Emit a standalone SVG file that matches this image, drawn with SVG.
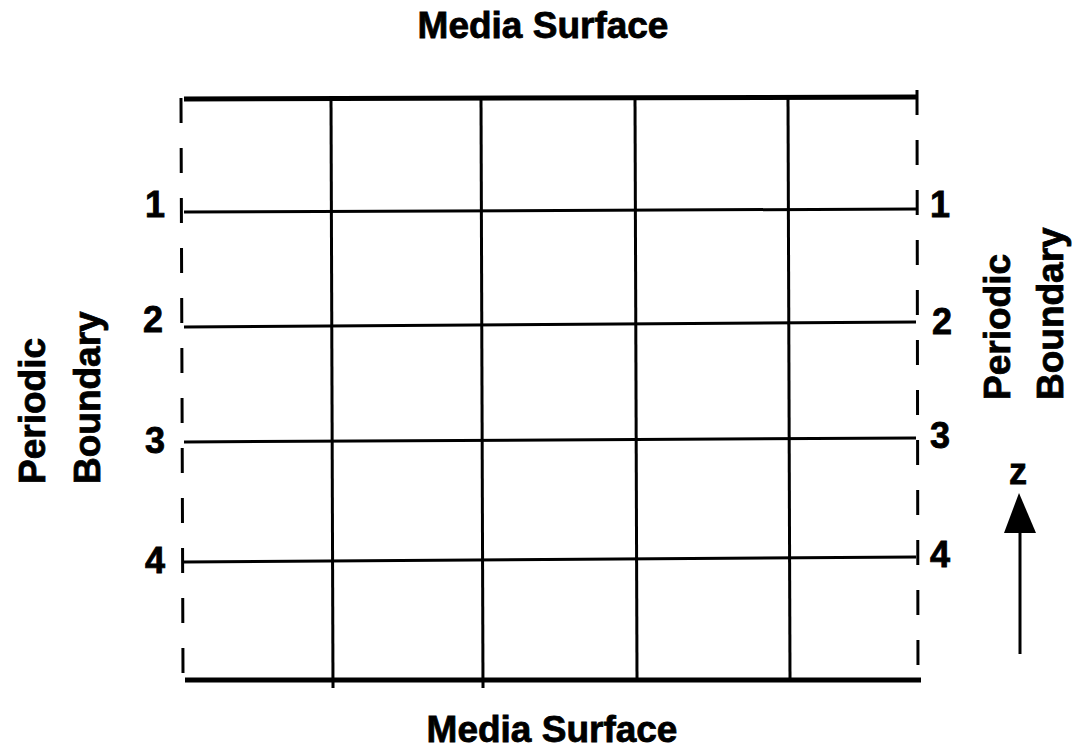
<svg xmlns="http://www.w3.org/2000/svg" width="1075" height="753" viewBox="0 0 1075 753">
<style>
text{font-family:"Liberation Sans",Arial,sans-serif;font-weight:bold;fill:#000;stroke:#000;stroke-width:0.8}
.t{font-size:37px}
.n{font-size:36px}
.surf{stroke:#000;stroke-width:5;fill:none}
.grid{stroke:#000;stroke-width:3;fill:none}
.dash{stroke:#000;stroke-width:3;fill:none;stroke-dasharray:25 25}
</style>
<rect width="1075" height="753" fill="#fff"/>
<g id="surfaces">
<line class="surf" x1="184" y1="99" x2="917" y2="97"/>
<line class="surf" x1="185" y1="680" x2="921" y2="680"/>
</g>
<g id="boundaries">
<line class="dash" x1="181" y1="98" x2="183" y2="675"/>
<line class="dash" x1="917" y1="90" x2="918" y2="680"/>
</g>
<g id="connectors">
<line class="grid" x1="331" y1="98" x2="333" y2="688"/>
<line class="grid" x1="481" y1="98" x2="483" y2="688"/>
<line class="grid" x1="635" y1="97" x2="637" y2="680"/>
<line class="grid" x1="788" y1="97" x2="790" y2="680"/>
<line class="grid" x1="184" y1="212" x2="916" y2="209"/>
<line class="grid" x1="184" y1="327" x2="916" y2="322"/>
<line class="grid" x1="184" y1="442" x2="916" y2="438"/>
<line class="grid" x1="184" y1="562" x2="916" y2="557"/>
</g>
<g id="labels-left">
<text class="n" x="145" y="217">1</text>
<text class="n" x="143" y="332">2</text>
<text class="n" x="145" y="453">3</text>
<text class="n" x="145" y="573">4</text>
</g>
<g id="labels-right">
<text class="n" x="930" y="217">1</text>
<text class="n" x="932" y="334">2</text>
<text class="n" x="930" y="448">3</text>
<text class="n" x="930" y="567">4</text>
</g>
<g id="title-top"><text class="t" x="543" y="38" text-anchor="middle">Media Surface</text></g>
<g id="title-bottom"><text class="t" x="552" y="742" text-anchor="middle">Media Surface</text></g>
<g id="left-boundary-label">
<text class="t" transform="translate(45,484) rotate(-90)">Periodic</text>
<text class="t" transform="translate(100,484) rotate(-90)">Boundary</text>
</g>
<g id="right-boundary-label">
<text class="t" transform="translate(1010,400) rotate(-90)">Periodic</text>
<text class="t" transform="translate(1063,400) rotate(-90)">Boundary</text>
</g>
<g id="z-axis">
<line x1="1020" y1="530" x2="1020" y2="654" stroke="#000" stroke-width="3"/>
<polygon points="1019,493 1004,533 1036,533" fill="#000"/>
<text x="1018" y="484" font-size="36" text-anchor="middle">z</text>
</g>
</svg>
